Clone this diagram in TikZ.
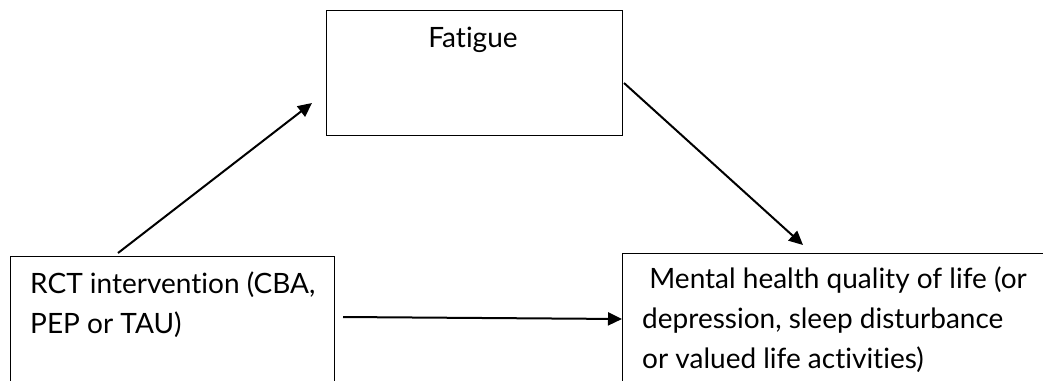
\documentclass[tikz,border=0pt]{standalone}
\usepackage{fontspec}
\setmainfont{Lato}[Ligatures=NoCommon]
\usetikzlibrary{positioning,arrows.meta}

\begin{document}
\begin{tikzpicture}[
  x=1pt, y=-1pt,
  box/.style={draw, line width=1pt, minimum width=#1, anchor=north west, inner sep=0pt},
  txt/.style={font=\fontsize{28}{40}\selectfont, align=left, inner sep=0pt},
  link/.style={-{Triangle[length=14pt,width=13pt]}, line width=2pt}
]
\useasboundingbox (0,0) rectangle (1043,380);

\node[box=296pt, minimum height=125pt] (fatigue) at (326,10) {};
\node[box=324pt, minimum height=160pt] (rct) at (10,256) {};
\node[box=440pt, minimum height=160pt] (mental) at (622,253) {};

% base anchor sits on the last line
\node[txt, anchor=base] (fatiguetxt) at ([shift={(147,37)}]fatigue.north west) {Fatigue};
\node[txt, anchor=base west] (rcttxt) at ([shift={(20,77)}]rct.north west)
  {RCT intervention (CBA,\\PEP or TAU)};
\node[txt, anchor=base west] (mentaltxt) at ([shift={(20,115)}]mental.north west)
  {\ Mental health quality of life (or\\depression, sleep disturbance\\or valued life activities)};

\draw[link] ([shift={(108,-3)}]rct.north west) -- ([shift={(-14,93)}]fatigue.north west);
\draw[link] ([shift={(1,73)}]fatigue.north east) -- ([shift={(181,-8)}]mental.north west);
\draw[link] ([shift={(8,61)}]rct.north east) -- ([shift={(0,66)}]mental.north west);

\end{tikzpicture}
\end{document}
